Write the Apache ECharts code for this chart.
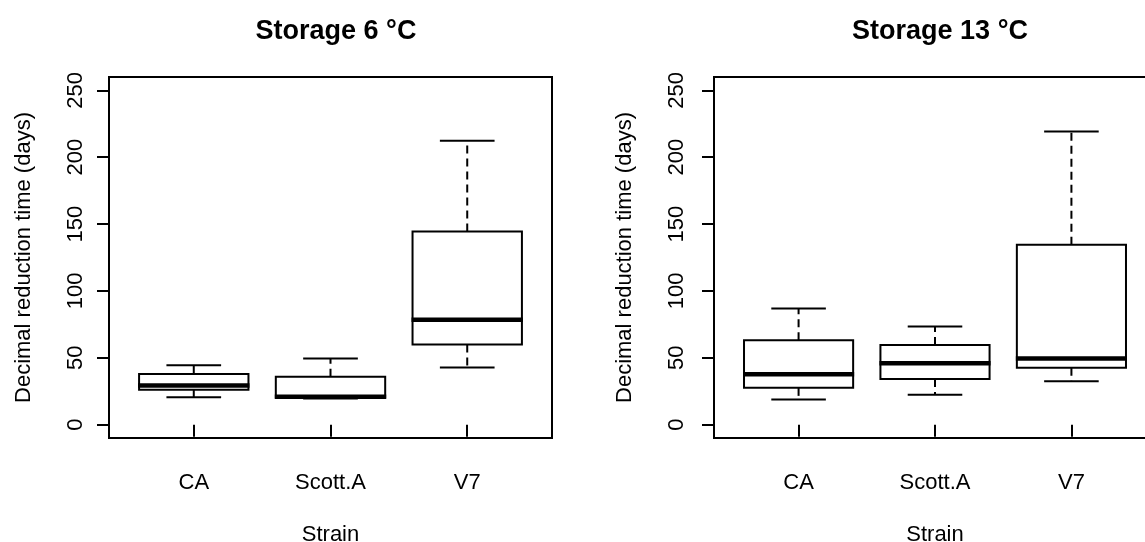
<!DOCTYPE html>
<html>
<head>
<meta charset="utf-8">
<script src="https://cdn.jsdelivr.net/npm/echarts@6/dist/echarts.min.js"></script>
<style>
html,body{margin:0;padding:0;background:#fff;}
#chart{width:1145px;height:542px;}
</style>
</head>
<body>
<div id="chart"></div>
<script>
// ---- data ----
const categories = ['CA', 'Scott.A', 'V7'];
const yTicks = [0, 50, 100, 150, 200, 250];
const panelTitles = ['Storage 6 °C', 'Storage 13 °C'];

// Storage 6 °C  (lower whisker, Q1, median, Q3, upper whisker)
const low6    = [20.5, 19.5, 42.8];
const q1_6    = [26.0, 20.3, 59.9];
const median6 = [29.2, 20.8, 78.5];
const q3_6    = [37.9, 35.9, 144.5];
const high6   = [44.5, 49.5, 212.3];

// Storage 13 °C
const low13    = [18.8, 22.3, 32.4];
const q1_13    = [27.5, 34.1, 42.5];
const median13 = [37.6, 46.0, 49.5];
const q3_13    = [63.1, 59.6, 134.6];
const high13   = [86.9, 73.3, 219.2];

// ---- chart ----
const FONT = '"Liberation Sans", Arial, sans-serif';

function buildData(lo, q1, med, q3, hi) {
  return categories.map((c, i) => [i + 1, lo[i], q1[i], med[i], q3[i], hi[i]]);
}

function renderBox(params, api) {
  const x = api.value(0);
  const lo = api.value(1), q1 = api.value(2), med = api.value(3), q3 = api.value(4), hi = api.value(5);
  const half = 0.4, cap = 0.2;
  const c = (a, b) => api.coord([a, b]);
  const pLo = c(x, lo), pQ1 = c(x, q1), pMed = c(x, med), pQ3 = c(x, q3), pHi = c(x, hi);
  const bl = c(x - half, q3), br = c(x + half, q1);
  const cl = c(x - cap, 0)[0], cr = c(x + cap, 0)[0];
  const solid = {stroke: '#000', lineWidth: 2, fill: null};
  const dashed = {stroke: '#000', lineWidth: 2, lineDash: [8, 5], fill: null};
  return {
    type: 'group',
    children: [
      {type: 'line', shape: {x1: pQ3[0], y1: pQ3[1], x2: pHi[0], y2: pHi[1]}, style: dashed},
      {type: 'line', shape: {x1: pQ1[0], y1: pQ1[1], x2: pLo[0], y2: pLo[1]}, style: dashed},
      {type: 'line', shape: {x1: cl, y1: pHi[1], x2: cr, y2: pHi[1]}, style: solid},
      {type: 'line', shape: {x1: cl, y1: pLo[1], x2: cr, y2: pLo[1]}, style: solid},
      {type: 'rect', shape: {x: bl[0], y: bl[1], width: br[0] - bl[0], height: br[1] - bl[1]},
        style: {stroke: '#000', lineWidth: 2, fill: '#fff'}},
      {type: 'line', shape: {x1: bl[0] - 1, y1: pMed[1], x2: br[0] + 1, y2: pMed[1]},
        style: {stroke: '#000', lineWidth: 4.5}}
    ]
  };
}

const grids = [
  {left: 109, top: 77, width: 443, height: 361},
  {left: 714, top: 77, width: 442, height: 361}
];
const yLabelMargin = [22, 26];
const yNameGap = [74, 78];

function xAxisFor(i) {
  return {
    type: 'value', gridIndex: i, min: 0.38, max: 3.62,
    name: 'Strain', nameLocation: 'middle', nameGap: 86,
    nameTextStyle: {fontFamily: FONT, fontSize: 22, color: '#000'},
    axisLine: {show: false},
    splitLine: {show: false},
    axisTick: {show: true, length: 12, lineStyle: {color: '#000', width: 2}, customValues: [1, 2, 3]},
    axisLabel: {
      customValues: [1, 2, 3], margin: 34,
      fontFamily: FONT, fontSize: 22, color: '#000',
      formatter: v => categories[Math.round(v) - 1] || ''
    }
  };
}

function yAxisFor(i) {
  return {
    type: 'value', gridIndex: i, min: -10, max: 260,
    name: 'Decimal reduction time (days)', nameLocation: 'middle', nameGap: yNameGap[i], nameRotate: 90,
    nameTextStyle: {fontFamily: FONT, fontSize: 22, color: '#000'},
    axisLine: {show: false},
    splitLine: {show: false},
    axisTick: {show: true, length: 12, lineStyle: {color: '#000', width: 2}, customValues: yTicks},
    axisLabel: {
      customValues: yTicks, rotate: 90, margin: yLabelMargin[i],
      fontFamily: FONT, fontSize: 22, color: '#000'
    }
  };
}

const chart = echarts.init(document.getElementById('chart'), null, {renderer: 'canvas'});
chart.setOption({
  animation: false,
  backgroundColor: '#fff',
  title: [
    {text: panelTitles[0], left: 331, top: 13, textAlign: 'center',
      textStyle: {fontFamily: FONT, fontSize: 27, fontWeight: 'bold', color: '#000'}},
    {text: panelTitles[1], left: 935, top: 13, textAlign: 'center',
      textStyle: {fontFamily: FONT, fontSize: 27, fontWeight: 'bold', color: '#000'}}
  ],
  grid: grids.map(g => Object.assign({show: true, borderColor: '#000', borderWidth: 2,
    backgroundColor: 'transparent', containLabel: false, outerBoundsMode: 'none'}, g)),
  xAxis: [xAxisFor(0), xAxisFor(1)],
  yAxis: [yAxisFor(0), yAxisFor(1)],
  series: [
    {type: 'custom', xAxisIndex: 0, yAxisIndex: 0, renderItem: renderBox,
      encode: {x: 0, y: [1, 2, 3, 4, 5]}, data: buildData(low6, q1_6, median6, q3_6, high6)},
    {type: 'custom', xAxisIndex: 1, yAxisIndex: 1, renderItem: renderBox,
      encode: {x: 0, y: [1, 2, 3, 4, 5]}, data: buildData(low13, q1_13, median13, q3_13, high13)}
  ]
});
</script>
</body>
</html>
